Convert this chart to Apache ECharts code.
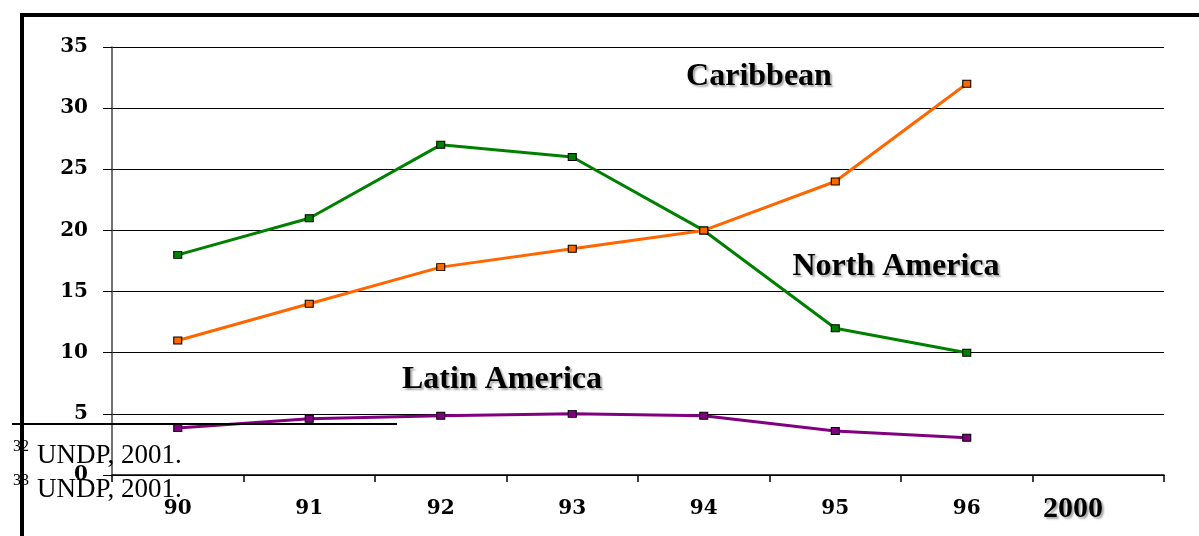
<!DOCTYPE html>
<html>
<head>
<meta charset="utf-8">
<script src="https://cdn.jsdelivr.net/npm/echarts@6/dist/echarts.min.js"></script>
<style>
  html, body { margin: 0; padding: 0; background: #fff; }
  #chart { width: 1199px; height: 536px; }
</style>
</head>
<body>
<div id="chart"></div>
<script>
// Years on the category axis
const years = ['90', '91', '92', '93', '94', '95', '96', '2000'];
// Y axis ticks
const yTicks = [0, 5, 10, 15, 20, 25, 30, 35];
// Series values per year
const greenValues = [18, 21, 27, 26, 20, 12, 10];
const orangeValues = [11, 14, 17, 18.5, 20, 24, 32];
const purpleValues = [3.85, 4.6, 4.85, 5.0, 4.85, 3.6, 3.05];
// Region labels placed on the chart
const regionLabels = ['Caribbean', 'North America', 'Latin America'];
// Footnotes under the chart
const footnotes = [['32', 'UNDP, 2001.'], ['33', 'UNDP, 2001.']];

const serif = '"Liberation Serif", "Times New Roman", serif';
const wideSerif = '"DejaVu Serif", serif';
const shadowText = {
  fontFamily: serif, fontWeight: 'bold', fill: '#000',
  textShadowColor: 'rgba(0,0,0,0.35)', textShadowBlur: 2,
  textShadowOffsetX: 2, textShadowOffsetY: 2
};

function lineSeries(name, data, color) {
  return {
    name: name, type: 'line', data: data,
    symbol: 'rect', symbolSize: [8, 7], showAllSymbol: true,
    lineStyle: { color: color, width: 3 },
    itemStyle: { color: color, borderColor: '#000', borderWidth: 1 },
    emphasis: { disabled: true }
  };
}

const chart = echarts.init(document.getElementById('chart'));
chart.setOption({
  animation: false,
  backgroundColor: '#fff',
  grid: { left: 112, right: 35, top: 47, bottom: 61 },
  xAxis: {
    type: 'category', data: years, boundaryGap: true,
    axisLine: { lineStyle: { color: '#000', width: 1.5 } },
    axisTick: { show: true, length: 7, lineStyle: { color: '#000', width: 1.5 } },
    axisLabel: {
      margin: 24, color: '#000', fontFamily: wideSerif, fontWeight: 'bold', fontSize: 20,
      // the last year gets its own larger label, drawn below
      formatter: function (v) { return v === years[years.length - 1] ? '' : v; }
    },
    splitLine: { show: false }
  },
  yAxis: {
    type: 'value', min: yTicks[0], max: yTicks[yTicks.length - 1], interval: 5,
    axisLine: { show: true, lineStyle: { color: '#444', width: 1.5 } },
    axisTick: { show: true, length: 9, lineStyle: { color: '#000', width: 1 } },
    axisLabel: { margin: 24, color: '#000', fontFamily: wideSerif, fontWeight: 'bold', fontSize: 20 },
    splitLine: { show: true, lineStyle: { color: '#000', width: 1 } }
  },
  series: [
    lineSeries('green', greenValues, '#008000'),
    lineSeries('orange', orangeValues, '#ff6600'),
    lineSeries('purple', purpleValues, '#800080')
  ],
  graphic: [
    // frame lines along the top and left edges
    { type: 'rect', z: 100, shape: { x: 20, y: 13, width: 1179, height: 4 }, style: { fill: '#000' } },
    { type: 'rect', z: 100, shape: { x: 20, y: 13, width: 4, height: 523 }, style: { fill: '#000' } },
    // footnote rule
    { type: 'rect', z: 100, shape: { x: 12, y: 423, width: 385, height: 2 }, style: { fill: '#000' } },
    // region labels
    { type: 'text', z: 100, x: 759, y: 77, style: Object.assign({ text: regionLabels[0], fontSize: 32, align: 'center', verticalAlign: 'middle' }, shadowText) },
    { type: 'text', z: 100, x: 896, y: 267, style: Object.assign({ text: regionLabels[1], fontSize: 32, align: 'center', verticalAlign: 'middle' }, shadowText) },
    { type: 'text', z: 100, x: 502, y: 380, style: Object.assign({ text: regionLabels[2], fontSize: 32, align: 'center', verticalAlign: 'middle' }, shadowText) },
    // large label for the last year
    { type: 'text', z: 100, x: 1073, y: 509, style: Object.assign({ text: years[years.length - 1], fontSize: 30, align: 'center', verticalAlign: 'middle' }, shadowText) },
    // footnotes
    { type: 'text', z: 100, x: 13, y: 447, style: { text: footnotes[0][0], fontFamily: serif, fontSize: 16, fill: '#000', verticalAlign: 'middle' } },
    { type: 'text', z: 100, x: 37, y: 456, style: { text: footnotes[0][1], fontFamily: serif, fontSize: 27, fill: '#000', verticalAlign: 'middle' } },
    { type: 'text', z: 100, x: 13, y: 481, style: { text: footnotes[1][0], fontFamily: serif, fontSize: 16, fill: '#000', verticalAlign: 'middle' } },
    { type: 'text', z: 100, x: 37, y: 490, style: { text: footnotes[1][1], fontFamily: serif, fontSize: 27, fill: '#000', verticalAlign: 'middle' } }
  ]
});
</script>
</body>
</html>
